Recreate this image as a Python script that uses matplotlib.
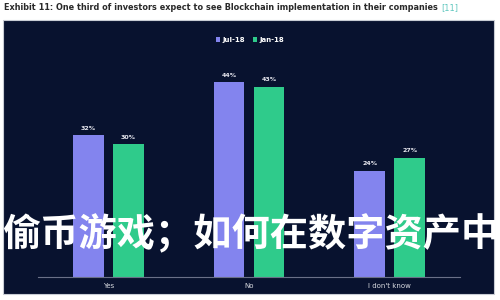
import numpy as np
import matplotlib.pyplot as plt
from matplotlib.patches import Rectangle

# data
categories = ['Yes', 'No', "I don't know"]
series_names = ['Jul-18', 'Jan-18']
jul_18 = [32, 44, 24]
jan_18 = [30, 43, 27]

title = 'Exhibit 11: One third of investors expect to see Blockchain implementation in their companies'
source = '[11]'
overlay = '偷币游戏；如何在数字资产中'

navy = '#08122f'
purple = '#8384ee'
green = '#2fcb8b'

plt.rcParams['font.family'] = ['DejaVu Sans']

fig = plt.figure(figsize=(5, 3), dpi=100)
fig.patch.set_facecolor('white')

# dark panel behind the chart
fig.patches.append(Rectangle((3 / 500, 1 - 294 / 300), 491 / 500, 274 / 300,
                             transform=fig.transFigure, facecolor=navy,
                             edgecolor='#c8ccd4', linewidth=0.8, zorder=0))

ax = fig.add_axes([0.076, 0.0767, 0.844, 0.737])
ax.set_zorder(2)
ax.set_facecolor('none')

x = np.arange(len(categories))
w = 0.22
off = 0.142
b1 = ax.bar(x - off, jul_18, w, color=purple, label=series_names[0])
b2 = ax.bar(x + off, jan_18, w, color=green, label=series_names[1])

for bars, vals in [(b1, jul_18), (b2, jan_18)]:
    for b, v in zip(bars, vals):
        ax.text(b.get_x() + b.get_width() / 2, v + 1.0, f'{v}%',
                ha='center', va='bottom', color='#e8e8f0', fontsize=4.5,
                fontweight='bold')

ax.set_xlim(-0.5, 2.5)
ax.set_ylim(0, 50)
ax.set_xticks(x)
ax.set_xticklabels(categories, color='#d8dae0', fontsize=5)
ax.tick_params(axis='x', length=0, pad=4)
ax.set_yticks([])
for s in ['top', 'right', 'left']:
    ax.spines[s].set_visible(False)
ax.spines['bottom'].set_color('#6a7088')
ax.spines['bottom'].set_linewidth(0.8)

leg = fig.legend(loc='center', bbox_to_anchor=(0.5, 1 - 40 / 300), ncol=2,
                 frameon=False, fontsize=5, handlelength=0.6, handleheight=0.6,
                 handletextpad=0.3, columnspacing=1.2)
leg.set_zorder(3)
for t in leg.get_texts():
    t.set_color('white')
    t.set_fontweight('bold')

# title with the teal source tag
t = fig.text(4 / 500, 1 - 8 / 300, title, fontsize=5.9, fontweight='bold',
             color='#2a2a2a', ha='left', va='center')
fig.canvas.draw()
bb = t.get_window_extent()
fig.text((bb.x1 + 3) / 500, 1 - 8 / 300, source, fontsize=5.9,
         color='#5cc6bd', ha='left', va='center')

# big overlaid caption
fig.text(2 / 500, 1 - 234 / 300, overlay, fontsize=27.5, fontweight='bold',
         color='white', ha='left', va='center', zorder=10,
         family=['Noto Sans CJK SC', 'DejaVu Sans'])

fig.savefig('out.png', dpi=100, facecolor=fig.get_facecolor())
